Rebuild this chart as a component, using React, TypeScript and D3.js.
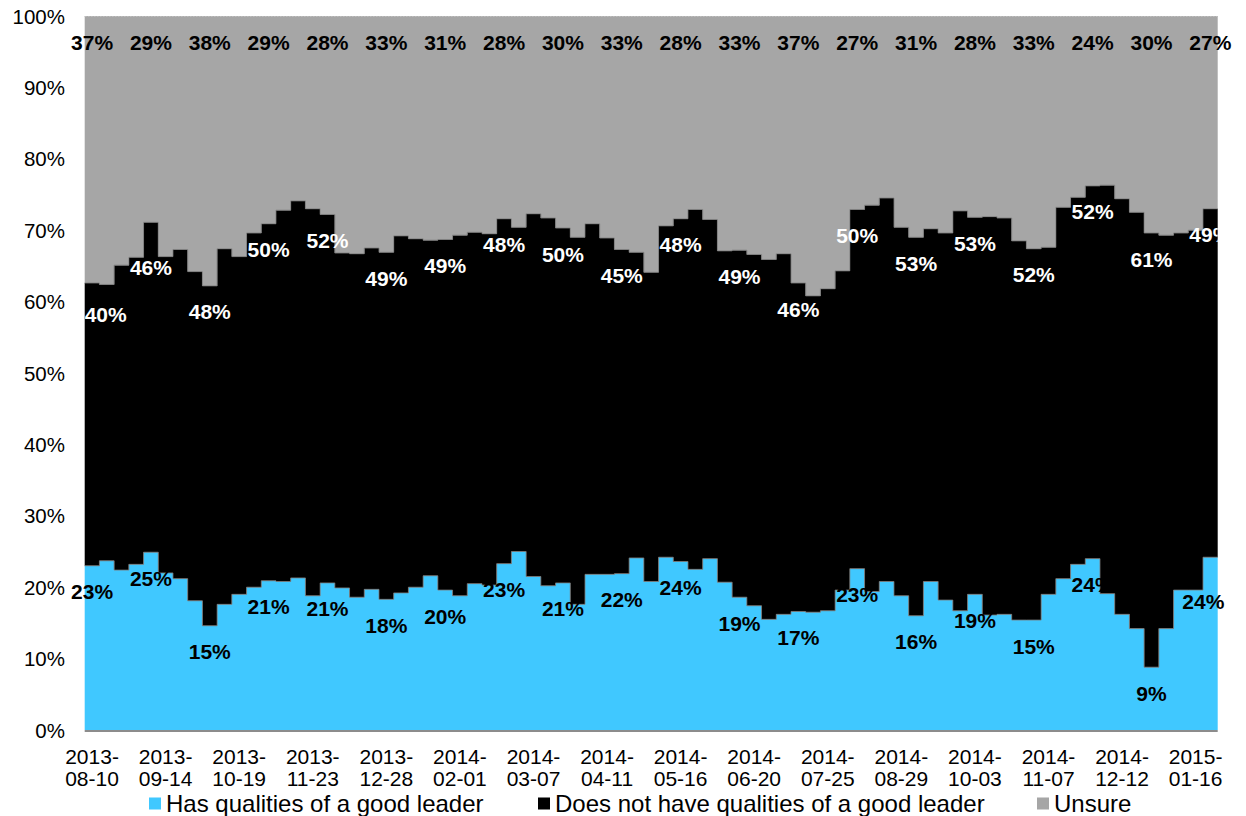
import React from 'react';
import * as d3 from 'd3';

// x-axis tick labels (every 5th survey column)
const tickDates = [
  '2013-08-10', '2013-09-14', '2013-10-19', '2013-11-23', '2013-12-28', '2014-02-01',
  '2014-03-07', '2014-04-11', '2014-05-16', '2014-06-20', '2014-07-25', '2014-08-29',
  '2014-10-03', '2014-11-07', '2014-12-12', '2015-01-16',
];

const seriesNames = ['Has qualities of a good leader', 'Does not have qualities of a good leader', 'Unsure'];
const seriesColors = ['#40C8FF', '#000000', '#A6A6A6'];

// Percent values per survey column
const hasQualities = [
  23.0, 23.7, 22.4, 23.2, 24.9, 22.0, 21.2, 18.1, 14.6, 17.6,
  19.0, 20.0, 20.9, 20.8, 21.3, 18.8, 20.6, 19.9, 18.6, 19.7,
  18.3, 19.2, 20.0, 21.6, 19.6, 18.8, 20.5, 20.3, 23.3, 25.0,
  21.5, 20.2, 20.6, 17.6, 21.8, 21.8, 21.9, 24.1, 20.8, 24.2,
  23.6, 22.5, 24.0, 20.7, 18.6, 17.4, 15.5, 16.2, 16.6, 16.5,
  16.7, 19.6, 22.6, 19.4, 20.8, 18.8, 16.0, 20.8, 18.2, 16.7,
  19.0, 16.1, 16.2, 15.4, 15.4, 19.0, 21.2, 23.2, 24.0, 19.1,
  16.2, 14.2, 8.8, 14.2, 19.6, 19.6, 24.2,
];

const noQualities = [
  39.6, 38.7, 42.7, 43.0, 46.2, 44.3, 46.1, 46.1, 47.6, 49.8,
  47.3, 49.6, 50.0, 52.0, 52.8, 54.2, 51.6, 46.9, 48.1, 47.8,
  48.6, 50.0, 48.8, 47.0, 49.1, 50.5, 49.2, 49.2, 48.3, 45.4,
  50.8, 51.5, 49.7, 51.4, 49.1, 47.1, 45.4, 42.8, 43.3, 46.4,
  48.0, 50.4, 47.5, 46.4, 48.6, 49.2, 50.4, 50.5, 46.0, 44.3,
  45.1, 44.7, 50.3, 54.1, 53.7, 51.6, 53.0, 49.4, 51.4, 56.0,
  52.8, 55.8, 55.5, 53.1, 52.0, 48.6, 52.0, 51.4, 52.2, 57.2,
  58.2, 58.3, 60.8, 55.1, 50.0, 50.4, 48.8,
];

const unsure = [
  37.4, 37.6, 34.9, 33.8, 28.9, 33.7, 32.7, 35.8, 37.8, 32.6,
  33.7, 30.4, 29.1, 27.2, 25.9, 27.0, 27.8, 33.2, 33.3, 32.5,
  33.1, 30.8, 31.2, 31.4, 31.3, 30.7, 30.3, 30.5, 28.4, 29.6,
  27.7, 28.3, 29.7, 31.0, 29.1, 31.1, 32.7, 33.1, 35.9, 29.4,
  28.4, 27.1, 28.5, 32.9, 32.8, 33.4, 34.1, 33.3, 37.4, 39.2,
  38.2, 35.7, 27.1, 26.5, 25.5, 29.6, 31.0, 29.8, 30.4, 27.3,
  28.2, 28.1, 28.3, 31.5, 32.6, 32.4, 26.8, 25.4, 23.8, 23.7,
  25.6, 27.5, 30.4, 30.7, 30.4, 30.0, 27.0,
];

const yTicks = [0, 10, 20, 30, 40, 50, 60, 70, 80, 90, 100];

// Manually moved data labels in the original (series index - column index): [dx, dy] in px
const labelNudges: Record<string, [number, number]> = {
  '1-0': [0, 5],
  '1-4': [0, 19],
  '0-76': [-7, 18],
};

export default function App() {
  const W = 1246, H = 816;
  const L = 84.7, R = 1217.7, T = 16, B = 730;
  const n = hasQualities.length;
  const keys = ['has', 'no', 'unsure'];
  const values = [hasQualities, noQualities, unsure];
  const rows = d3.range(n).map((i) => ({ has: hasQualities[i], no: noQualities[i], unsure: unsure[i] }));
  const stacked = d3.stack<any>().keys(keys)(rows as any);

  const x = d3.scaleBand<number>().domain(d3.range(n)).range([L, R]).padding(0);
  const bw = x.bandwidth();
  const y = d3.scaleLinear().domain([0, 100]).range([B, T]);

  const edgeX = (j: number) => (j < n ? (x(j) as number) : (x(n - 1) as number) + bw);

  const area = d3
    .area<any>()
    .curve(d3.curveStepAfter)
    .x((_d, j) => edgeX(j))
    .y0((d) => y(d[0]))
    .y1((d) => y(d[1]));
  const line = d3
    .line<any>()
    .curve(d3.curveStepAfter)
    .x((_d, j) => edgeX(j))
    .y((d) => y(d[1]));

  const ext = (s: any[]) => [...s, s[s.length - 1]];

  const font = "'Liberation Sans', Arial, sans-serif";
  const labelColors = ['#000', '#fff', '#000'];
  const labelIdx = d3.range(0, n, 4);

  return (
    <svg width={W} height={H} style={{ position: 'absolute', left: 0, top: 0, background: '#fff' }} fontFamily={font}>
      <defs>
        <clipPath id="plotClip">
          <rect x={L} y={T} width={R - L} height={B - T} />
        </clipPath>
      </defs>
      {stacked.map((s, k) => (
        <path key={k} d={area(ext(s as any)) || ''} fill={seriesColors[k]} />
      ))}
      {stacked.slice(0, 2).map((s, k) => (
        <path key={'l' + k} d={line(ext(s as any)) || ''} fill="none" stroke="#7a7a7a" strokeWidth={0.8} />
      ))}
      <line x1={L} x2={R} y1={T + 0.5} y2={T + 0.5} stroke="#bdbdbd" strokeWidth={1} strokeDasharray="2,1" />
      <line x1={L} x2={R} y1={B + 1} y2={B + 1} stroke="#8c8c8c" strokeWidth={2} />

      {/* data labels */}
      {stacked.map((s, k) =>
        labelIdx.map((i) => {
          const d = s[i];
          const v = values[k][i];
          const nudge = labelNudges[k + '-' + i] || [0, 0];
          let cx = (x(i) as number) + bw / 2;
          if (k === 1) cx = Math.max(cx, L + 21);
          const ty = y(d[1]) + 26 + 7.5 + nudge[1];
          return (
            <text
              key={k + '-' + i}
              x={cx + nudge[0]}
              y={ty}
              textAnchor="middle"
              fontSize={21}
              fontWeight="bold"
              fill={labelColors[k]}
              clipPath={k === 1 ? 'url(#plotClip)' : undefined}
            >
              {Math.round(v) + '%'}
            </text>
          );
        })
      )}

      {/* y axis labels */}
      {yTicks.map((t) => (
        <text key={t} x={65} y={y(t) + 7.5} textAnchor="end" fontSize={20.5} fill="#000">
          {t + '%'}
        </text>
      ))}

      {/* x axis labels */}
      {tickDates.map((lab, j) => {
        const idx = j * 5;
        const cx = (x(idx) as number) + bw / 2;
        const p = lab.indexOf('-');
        return (
          <text key={lab} textAnchor="middle" fontSize={21} fill="#000">
            <tspan x={cx} y={764}>{lab.slice(0, p + 1)}</tspan>
            <tspan x={cx} y={786}>{lab.slice(p + 1)}</tspan>
          </text>
        );
      })}

      {/* legend */}
      {seriesNames.map((name, k) => {
        const lx = [149, 538, 1037][k];
        return (
          <g key={name}>
            <rect x={lx} y={797.5} width={12} height={12} fill={seriesColors[k]} />
            <text x={lx + 17} y={811.5} fontSize={24} fill="#000">
              {name}
            </text>
          </g>
        );
      })}
    </svg>
  );
}
